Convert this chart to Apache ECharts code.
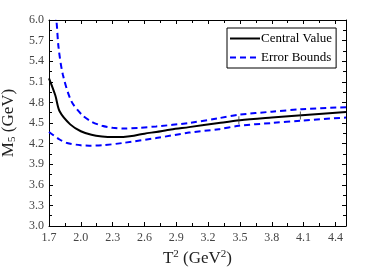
<!DOCTYPE html>
<html><head><meta charset="utf-8">
<script src="https://cdn.jsdelivr.net/npm/echarts@6/dist/echarts.min.js"></script>
<style>html,body{margin:0;padding:0;background:#fff}#c{width:382px;height:273px}</style>
</head><body><div id="c"></div>
<script>
var centralX = [1.7, 1.76, 1.8, 1.9, 2.0, 2.1, 2.2, 2.3, 2.4, 2.5, 2.6, 2.71, 2.85, 3.02, 3.3, 3.5, 3.8, 4.05, 4.5];
var centralY = [5.15, 4.90, 4.67, 4.48, 4.38, 4.33, 4.305, 4.295, 4.297, 4.315, 4.345, 4.37, 4.405, 4.44, 4.50, 4.54, 4.58, 4.61, 4.66];
var upperX = [1.755, 1.77, 1.79, 1.83, 1.91, 2.01, 2.1, 2.2, 2.3, 2.4, 2.55, 2.71, 3.02, 3.3, 3.49, 3.8, 4.08, 4.5];
var upperY = [6.1, 5.99, 5.60, 5.21, 4.82, 4.62, 4.52, 4.46, 4.43, 4.42, 4.43, 4.45, 4.50, 4.57, 4.62, 4.665, 4.70, 4.73];
var lowerX = [1.7, 1.8, 1.87, 2.0, 2.08, 2.2, 2.4, 2.71, 3.02, 3.3, 3.49, 3.8, 4.08, 4.5];
var lowerY = [4.37, 4.26, 4.21, 4.175, 4.17, 4.175, 4.21, 4.28, 4.36, 4.41, 4.46, 4.50, 4.535, 4.58];
var tickMarkX = [3.49, 4.07];
var tickMarkY = [4.54, 4.61];
var legendNames = ['Central Value', 'Error Bounds'];

function pairs(xs, ys) { return xs.map(function (x, i) { return [x, ys[i]]; }); }
var serif = 'Liberation Serif';
var chart = echarts.init(document.getElementById('c'), null, {renderer: 'canvas'});
var axCommon = {
  type: 'value',
  axisLine: {show: true, lineStyle: {color: '#000', width: 1}},
  axisTick: {show: true, inside: true, length: 4, lineStyle: {color: '#000'}},
  minorTick: {show: true, splitNumber: 2, length: 3, lineStyle: {color: '#000'}},
  splitLine: {show: false}
};
chart.setOption({
  animation: false,
  backgroundColor: '#fff',
  grid: {left: 49, right: 36, top: 20, bottom: 47, containLabel: false, outerBoundsMode: 'none'},
  legend: {
    data: [legendNames[0], legendNames[1]],
    orient: 'vertical', left: 227, top: 28,
    itemWidth: 30, itemHeight: 10, itemGap: 6,
    padding: [4, 4, 4, 2],
    borderColor: '#000', borderWidth: 1, backgroundColor: '#fff',
    itemStyle: {opacity: 0},
    textStyle: {fontFamily: serif, fontSize: 13, color: '#000', padding: [0, 0, 0, -4]}
  },
  xAxis: [
    Object.assign({}, axCommon, {
      min: 1.7, max: 4.5, interval: 0.3,
      axisLabel: {fontFamily: serif, fontSize: 12, color: '#444', margin: 6, showMaxLabel: false,
        formatter: function (v) { return v > 4.45 ? '' : v.toFixed(1); }},
      name: '{a|T}{s|2}{a| (GeV}{s|2}{a|)}', nameLocation: 'middle', nameGap: 21,
      nameTextStyle: {rich: {a: {fontFamily: serif, fontSize: 17, color: '#222'},
        s: {fontFamily: serif, fontSize: 11, color: '#222', verticalAlign: 'top', padding: [0, 0, 8, 0]}}}
    }),
    Object.assign({}, axCommon, {position: 'top', min: 1.7, max: 4.5, interval: 0.3, axisLabel: {show: false}})
  ],
  yAxis: [
    Object.assign({}, axCommon, {
      min: 3.0, max: 6.0, interval: 0.3,
      axisLabel: {fontFamily: serif, fontSize: 12, color: '#444', margin: 5,
        formatter: function (v) { return v.toFixed(1); }},
      name: '{a|M}{s|5}{a| (GeV)}', nameLocation: 'middle', nameGap: 30,
      nameTextStyle: {rich: {a: {fontFamily: serif, fontSize: 17, color: '#222'},
        s: {fontFamily: serif, fontSize: 11, color: '#222', verticalAlign: 'bottom', padding: [8, 0, 0, 0]}}}
    }),
    Object.assign({}, axCommon, {position: 'right', min: 3.0, max: 6.0, interval: 0.3, axisLabel: {show: false}})
  ],
  series: [
    {name: legendNames[0], type: 'line', data: pairs(centralX, centralY), smooth: 0.3, symbol: 'none',
      lineStyle: {color: '#000', width: 2}, itemStyle: {color: '#000'}, z: 3},
    {name: legendNames[1], type: 'line', data: pairs(upperX, upperY), smooth: 0.3, symbol: 'none', clip: true,
      lineStyle: {color: '#0000ff', width: 2, type: [6, 4]}, itemStyle: {color: '#0000ff'}},
    {name: legendNames[1], type: 'line', data: pairs(lowerX, lowerY), smooth: 0.3, symbol: 'none',
      lineStyle: {color: '#0000ff', width: 2, type: [6, 4]}, itemStyle: {color: '#0000ff'}},
    {type: 'scatter', data: pairs(tickMarkX, tickMarkY), symbol: 'rect', symbolSize: [1, 8],
      itemStyle: {color: '#333'}, z: 4, silent: true}
  ]
});
</script></body></html>
